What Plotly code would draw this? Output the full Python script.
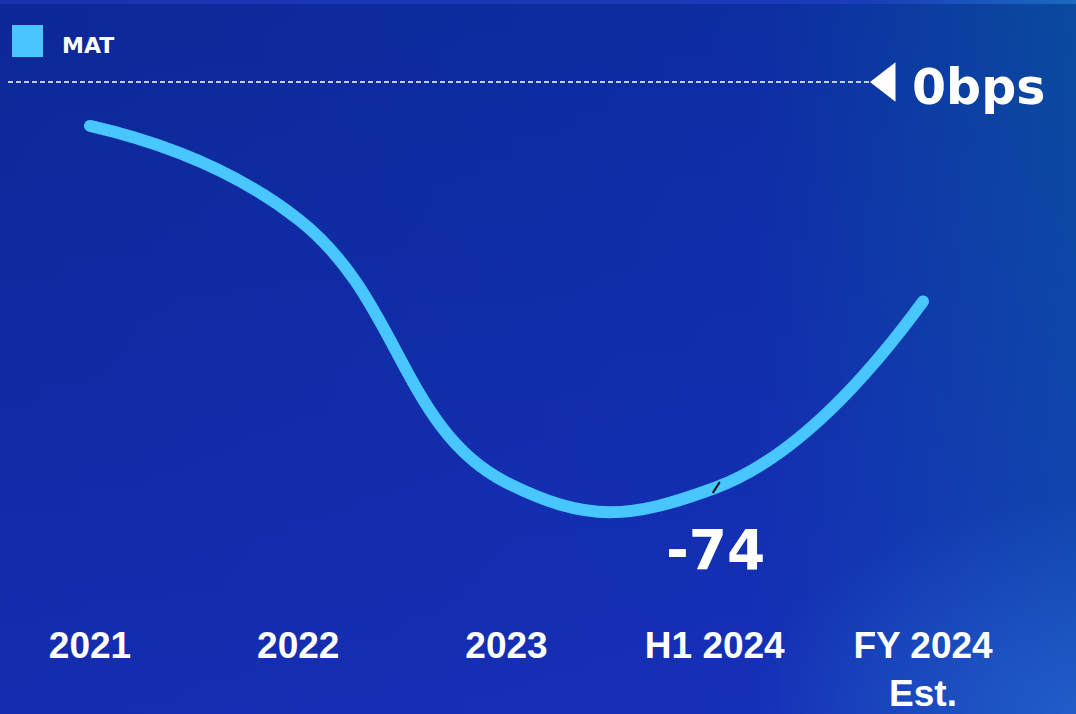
import base64
import plotly.graph_objects as go

categories = ["2021", "2022", "2023", "H1 2024", "FY 2024<br>Est."]
mat_bps = [-8, -25, -73, -74, -40]
series_name = "MAT"
ref_value = 0
ref_label = "0bps"
highlight_index = 3

W, H = 1076, 714
LINE_COLOR = "#48C6FF"

svg = f"""<svg xmlns='http://www.w3.org/2000/svg' width='{W}' height='{H}' preserveAspectRatio='none'>
<defs>
<linearGradient id='h' x1='0' y1='0' x2='1' y2='0'>
<stop offset='0' stop-color='#0C2896'/><stop offset='0.7' stop-color='#0D2DA2'/><stop offset='1' stop-color='#0A4A9E'/>
</linearGradient>
<linearGradient id='v' x1='0' y1='0' x2='0' y2='1'>
<stop offset='0' stop-color='#2535E0' stop-opacity='0'/><stop offset='1' stop-color='#2535E0' stop-opacity='0.35'/>
</linearGradient>
<radialGradient id='r' cx='1' cy='1' r='0.3'>
<stop offset='0' stop-color='#2A6ED5' stop-opacity='0.6'/><stop offset='1' stop-color='#2A6ED5' stop-opacity='0'/>
</radialGradient>
<linearGradient id='s' x1='0' y1='0' x2='1' y2='0'>
<stop offset='0' stop-color='#1A33B0'/><stop offset='0.8' stop-color='#1A3CB8'/><stop offset='1' stop-color='#1A6AC0'/>
</linearGradient>
</defs>
<rect width='{W}' height='{H}' fill='url(#h)'/>
<rect width='{W}' height='{H}' fill='url(#v)'/>
<rect width='{W}' height='{H}' fill='url(#r)'/>
<rect width='{W}' height='4' fill='url(#s)'/>
</svg>"""
bg_uri = "data:image/svg+xml;base64," + base64.b64encode(svg.encode()).decode()

x_idx = list(range(len(categories)))

# layout geometry
m_b = 94
plot_h = H - m_b
px_per_x = 208.25
x_min = -90 / px_per_x
x_max = 4 + (W - 923) / px_per_x
px_per_y = (488 - 82) / 74
y_max = 82 / px_per_y
y_min = y_max - plot_h / px_per_y

fig = go.Figure()
fig.add_trace(go.Scatter(
    x=x_idx, y=mat_bps, mode="lines", name=series_name,
    line=dict(color=LINE_COLOR, width=12, shape="spline", smoothing=1.3),
    hoverinfo="skip", showlegend=False,
))
# reference marker (triangle)
fig.add_trace(go.Scatter(
    x=[(887 - 90) / px_per_x], y=[ref_value], mode="markers",
    marker=dict(symbol="triangle-left", size=34, color="white", line=dict(width=0)),
    hoverinfo="skip", showlegend=False, cliponaxis=False,
))

fig.update_layout(
    width=W, height=H, autosize=False,
    margin=dict(l=0, r=0, t=0, b=m_b, pad=0, autoexpand=False),
    paper_bgcolor="#102FA6", plot_bgcolor="rgba(0,0,0,0)",
    showlegend=False,
    images=[dict(source=bg_uri, xref="paper", yref="paper", x=0, y=1,
                 sizex=1, sizey=H / plot_h, sizing="stretch", layer="below",
                 xanchor="left", yanchor="top")],
    xaxis=dict(range=[x_min, x_max], tickmode="array", tickvals=x_idx,
               ticktext=categories, showgrid=False, zeroline=False,
               showline=False, ticks="", ticklabelstandoff=0, automargin=False,
               tickfont=dict(family="Liberation Sans", size=37, color="white", weight="bold")),
    yaxis=dict(range=[y_min, y_max], visible=False, showgrid=False, zeroline=False,
               automargin=False),
    shapes=[
        dict(type="line", xref="paper", yref="y", x0=8 / W, x1=872 / W,
             y0=ref_value, y1=ref_value, line=dict(color="white", width=1.3, dash="5px,3px")),
        dict(type="rect", xref="paper", yref="paper", x0=12 / W, x1=43 / W,
             y0=(plot_h - 57) / plot_h, y1=(plot_h - 25) / plot_h,
             fillcolor=LINE_COLOR, line=dict(width=0)),
        dict(type="line", xref="x", yref="y", xsizemode="pixel", ysizemode="pixel",
             xanchor=highlight_index, yanchor=mat_bps[highlight_index],
             x0=-2, x1=5, y0=-5, y1=6, line=dict(color="black", width=2)),
    ],
    annotations=[
        dict(text=series_name, xref="paper", yref="paper", x=60 / W, y=(plot_h - 45) / plot_h,
             xanchor="left", yanchor="middle", showarrow=False,
             font=dict(family="DejaVu Sans", size=22, color="white", weight="bold")),
        dict(text=ref_label, xref="paper", yref="y", x=910 / W, y=ref_value,
             xanchor="left", yanchor="middle", showarrow=False, yshift=-5,
             font=dict(family="DejaVu Sans", size=49, color="white", weight="bold")),
        dict(text=str(mat_bps[highlight_index]), xref="x", yref="y",
             x=highlight_index, y=mat_bps[highlight_index], xanchor="center",
             yanchor="middle", yshift=-62, xshift=1, showarrow=False,
             font=dict(family="DejaVu Sans", size=55, color="white", weight="bold")),
    ],
)

post = """
document.body.style.margin='0';
document.body.style.padding='0';
document.querySelectorAll('.scatterlayer .js-line').forEach(function(p){
  p.style.strokeLinecap='round'; p.style.strokeLinejoin='round';
});
"""
fig.write_html("out.html", post_script=post, config={"displayModeBar": False})
